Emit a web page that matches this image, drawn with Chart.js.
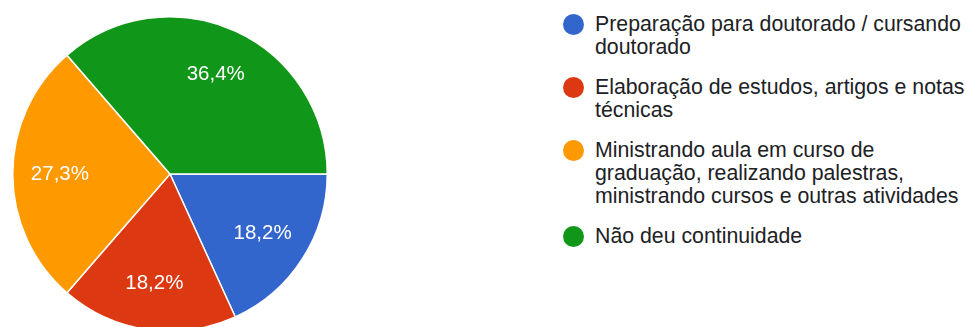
<!DOCTYPE html>
<html>
<head>
<meta charset="utf-8">
<script src="https://cdn.jsdelivr.net/npm/chart.js@4.4.1/dist/chart.umd.min.js"></script>
<style>
  html, body { margin: 0; padding: 0; background: #fff; }
  body { width: 966px; height: 327px; overflow: hidden; position: relative; font-family: "Liberation Sans", Arial, sans-serif; }
  #pieBox { position: absolute; left: 12px; top: 16px; width: 316px; height: 316px; }
  #legend { position: absolute; left: 563px; top: 13px; width: 403px; margin: 0; padding: 0; list-style: none; }
  #legend li { display: flex; align-items: flex-start; margin: 0 0 17px 0; }
  #legend .dot { flex: 0 0 auto; width: 21px; height: 21px; border-radius: 50%; margin-top: 1px; margin-right: 11px; }
  #legend .txt { font-size: 21.3px; line-height: 23px; color: #202124; width: 371px; flex: 0 0 371px; }
</style>
</head>
<body>
<div id="pieBox"><canvas id="pie"></canvas></div>
<ul id="legend"></ul>
<script>
// Answer categories, response counts and slice colours
const categories = [
  "Preparação para doutorado / cursando doutorado",
  "Elaboração de estudos, artigos e notas técnicas",
  "Ministrando aula em curso de graduação, realizando palestras, ministrando cursos e outras atividades",
  "Não deu continuidade"
];
const responses = [2, 2, 3, 4];
const sliceColors = ["#3366cc", "#dc3912", "#ff9900", "#109618"];

const total = responses.reduce((a, b) => a + b, 0);
const pctText = v => (v / total * 100).toFixed(1).replace(".", ",") + "%";

// Percentage labels drawn inside each slice
const sliceLabels = {
  id: "sliceLabels",
  afterDatasetsDraw(chart) {
    const ctx = chart.ctx;
    const meta = chart.getDatasetMeta(0);
    ctx.save();
    ctx.fillStyle = "#ffffff";
    ctx.font = '20.5px "Liberation Sans", Arial, sans-serif';
    ctx.textAlign = "center";
    ctx.textBaseline = "middle";
    meta.data.forEach((arc, i) => {
      const p = arc.getProps(["x", "y", "startAngle", "endAngle", "outerRadius"], true);
      const mid = (p.startAngle + p.endAngle) / 2;
      const r = p.outerRadius * 0.7;
      ctx.fillText(pctText(responses[i]), p.x + Math.cos(mid) * r, p.y + Math.sin(mid) * r);
    });
    ctx.restore();
  }
};

new Chart(document.getElementById("pie"), {
  type: "pie",
  data: {
    labels: categories,
    datasets: [{
      data: responses,
      backgroundColor: sliceColors,
      borderColor: "#ffffff",
      borderWidth: 1.5
    }]
  },
  options: {
    responsive: true,
    maintainAspectRatio: false,
    animation: false,
    rotation: 90,
    layout: { padding: 0 },
    plugins: {
      legend: { display: false },
      tooltip: { enabled: false }
    }
  },
  plugins: [sliceLabels]
});

// Legend list built from the same categories and colours
const legend = document.getElementById("legend");
categories.forEach((name, i) => {
  const li = document.createElement("li");
  const dot = document.createElement("span");
  dot.className = "dot";
  dot.style.background = sliceColors[i];
  const txt = document.createElement("span");
  txt.className = "txt";
  txt.textContent = name;
  li.appendChild(dot);
  li.appendChild(txt);
  legend.appendChild(li);
});
</script>
</body>
</html>
